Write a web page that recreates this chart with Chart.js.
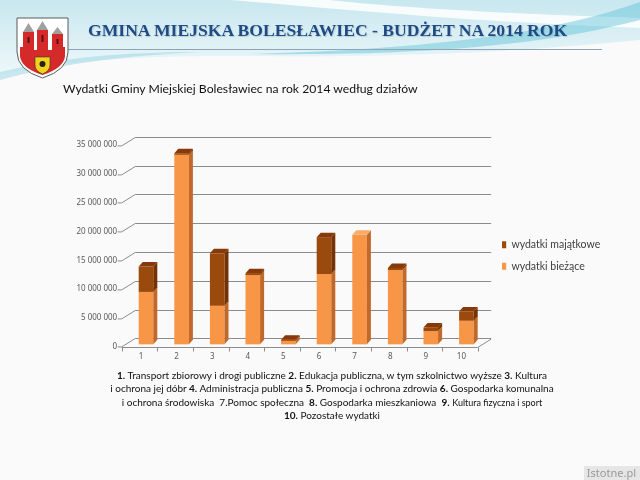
<!DOCTYPE html>
<html>
<head>
<meta charset="utf-8">
<script src="https://cdn.jsdelivr.net/npm/chart.js@4.4.1/dist/chart.umd.min.js"></script>
<style>
html, body { margin: 0; padding: 0; }
body { width: 640px; height: 480px; position: relative; overflow: hidden; background: #fafafa; font-family: Lato, "Noto Sans", sans-serif; }
#bg, #chart { position: absolute; left: 0; top: 0; }
.title { position: absolute; left: 88px; top: 22px; font: bold 17.6px/17px "Liberation Serif", serif; color: #1e4b85; white-space: nowrap; text-shadow: 1px 1px 1px rgba(0,0,0,.15); }
.sub { position: absolute; left: 63px; top: 82px; font-size: 12.2px; line-height: 13px; color: #111; white-space: nowrap; }
.note { position: absolute; left: 0; width: 664px; top: 369px; text-align: center; font-size: 10px; line-height: 13.3px; color: #111; white-space: nowrap; }
.note small { font-size: 9px; }
.mark { position: absolute; right: 0; bottom: 0; width: 52px; height: 14px; background: #e6e6e6; color: #999; font: 11px/14px "Noto Sans", sans-serif; text-align: right; padding-right: 4px; }
</style>
</head>
<body>
<svg id="bg" width="640" height="480">
  <defs>
    <linearGradient id="sky" x1="0" y1="0" x2="0" y2="1">
      <stop offset="0" stop-color="#c8e7ef"/>
      <stop offset="1" stop-color="#eef8fa"/>
    </linearGradient>
  </defs>
  <rect width="640" height="480" fill="#fafafa"/>
  <path d="M0,0 H640 V40 C520,52 380,58 250,56 C150,55 60,60 0,75 Z" fill="url(#sky)"/>
  <path d="M230,0 C330,8 470,22 640,28 V18 C500,14 380,6 330,0 Z" fill="#fff" opacity=".85"/>
  <path d="M250,54 C400,50 540,38 640,2 V20 C540,46 420,56 250,54 Z" fill="#5cc0d8" opacity=".45"/>
  <path d="M0,72 C60,58 120,52 200,52 C120,56 60,64 0,80 Z" fill="#8dd0e0" opacity=".45"/>
  <line x1="60" y1="49.5" x2="602" y2="49.5" stroke="#8fa4b4" stroke-width="1"/>
  <!-- herb -->
  <path d="M17,18 H68 V52 Q68,70 42.5,78 Q17,70 17,52 Z" fill="#fff" stroke="#5a5a5a" stroke-width="1"/>
  <path d="M20,50 H65 V56 Q64,68 42.5,75 Q21,68 20,56 Z" fill="#d42a2a"/>
  <rect x="20" y="47" width="4" height="4" fill="#d42a2a"/>
  <rect x="61" y="47" width="4" height="4" fill="#d42a2a"/>
  <rect x="23" y="32" width="11" height="19" fill="#d42a2a"/>
  <rect x="37" y="30" width="11" height="21" fill="#d42a2a"/>
  <rect x="52" y="34" width="11" height="17" fill="#d42a2a"/>
  <path d="M23,32 L28.5,23 L34,32 Z" fill="#a0a0a0"/>
  <path d="M37,30 L42.5,21 L48,30 Z" fill="#a0a0a0"/>
  <path d="M52,34 L57.5,27 L63,34 Z" fill="#a0a0a0"/>
  <rect x="27.5" y="37" width="2" height="6" fill="#5a1010"/>
  <rect x="41.5" y="35" width="2" height="7" fill="#5a1010"/>
  <rect x="56.5" y="39" width="2" height="5" fill="#5a1010"/>
  <path d="M35,57 H50 V65 Q50,71 42.5,74 Q35,71 35,65 Z" fill="#f2d21b" stroke="#333" stroke-width=".6"/>
  <circle cx="42.5" cy="64" r="3" fill="#222"/>
</svg>
<canvas id="chart" width="640" height="480"></canvas>
<div class="title">GMINA MIEJSKA BOLESŁAWIEC - BUDŻET NA 2014 ROK</div>
<div class="sub">Wydatki Gminy Miejskiej Bolesławiec na rok 2014 według działów</div>
<div class="note">
<b>1.</b> Transport zbiorowy i drogi publiczne <b>2.</b> Edukacja publiczna, w tym szkolnictwo wyższe <b>3.</b> Kultura<br>
i ochrona jej dóbr <b>4.</b> Administracja publiczna <b>5.</b> Promocja i ochrona zdrowia <b>6.</b> Gospodarka komunalna<br>
i ochrona środowiska&nbsp; 7.Pomoc społeczna&nbsp; <b>8.</b> Gospodarka mieszkaniowa&nbsp; <b>9.</b> <small>Kultura fizyczna i sport</small><br>
<b>10.</b> Pozostałe wydatki
</div>
<div class="mark">Istotne.pl</div>
<script>
// działy 1..10
var categories = ['1', '2', '3', '4', '5', '6', '7', '8', '9', '10'];
var currentSpending = [9100000, 32900000, 6700000, 12000000, 600000, 12200000, 19000000, 12900000, 2300000, 4100000];
var capitalSpending = [4400000, 250000, 9100000, 350000, 200000, 6400000, 0, 350000, 600000, 1600000];
var seriesNames = ['wydatki bieżące', 'wydatki majątkowe'];
var yMax = 35000000;
var yStep = 5000000;

// front / side / top colours for each series
var faces = [
    { front: '#f79646', side: '#c0692a', top: '#fbab68' },
    { front: '#9b4a0e', side: '#763205', top: '#86390a' }
];
var depthX = 4, depthY = -4.5;            // bar depth
var frontX = -6.5, frontY = 2.4;          // front plane of the box
var backX = 7, backY = -6;                // back wall

function fmt(v) {
    return String(v).replace(/\B(?=(\d{3})+(?!\d))/g, ' ');
}

function poly(ctx, pts, color) {
    ctx.beginPath();
    ctx.moveTo(pts[0][0], pts[0][1]);
    for (var i = 1; i < pts.length; i++) ctx.lineTo(pts[i][0], pts[i][1]);
    ctx.closePath();
    ctx.fillStyle = color;
    ctx.fill();
}

function drawWalls(chart) {
    var ctx = chart.ctx, a = chart.chartArea, y = chart.scales.y;
    var x0 = a.left, x1 = a.right, yb = a.bottom;
    ctx.save();
    ctx.strokeStyle = '#8c8c8c';
    ctx.lineWidth = 1;
    ctx.beginPath();
    for (var v = 0; v <= yMax; v += yStep) {
        var py = Math.round(y.getPixelForValue(v)) + 0.5;
        ctx.moveTo(x0 + frontX - 4, py + frontY);
        ctx.lineTo(x0 + frontX, py + frontY);
        ctx.moveTo(x0 + frontX, py + frontY);
        ctx.lineTo(x0 + backX, py + backY);
        ctx.moveTo(x0 + backX, py + backY);
        ctx.lineTo(x1 + backX, py + backY);
    }
    var fy = Math.round(yb + frontY) + 0.5;
    ctx.moveTo(x0 + frontX, fy);
    ctx.lineTo(x1 + frontX, fy);
    ctx.lineTo(x1 + backX, fy + backY - frontY);
    var n = categories.length, slot = (x1 - x0) / n;
    for (var k = 0; k <= n; k++) {
        var px = Math.round(x0 + k * slot + frontX) + 0.5;
        ctx.moveTo(px, fy);
        ctx.lineTo(px, fy + 4);
    }
    ctx.stroke();
    ctx.restore();
}

var box3d = {
    id: 'box3d',
    afterInit: function(chart) {
        var lg = chart.legend;
        var fit = lg.fit;
        lg.fit = function() {
            fit.call(this);
            this.width = 155.8;
        };
    },
    afterLayout: function(chart) {
        var lg = chart.legend;
        lg.left += 4; lg.right += 4;
        lg.top += 12; lg.bottom += 12;
    },
    afterDatasetsDraw: function(chart) {
        var ctx = chart.ctx, a = chart.chartArea;
        // wipe the flat bars, then draw the box and the bars in 3D
        ctx.clearRect(a.left - 2, a.top - 10, a.right - a.left + 20, a.bottom - a.top + 10);
        drawWalls(chart);
        ctx.save();
        var metas = [chart.getDatasetMeta(0), chart.getDatasetMeta(1)];
        for (var i = 0; i < categories.length; i++) {
            for (var d = 0; d < metas.length; d++) {
                var el = metas[d].data[i];
                var p = el.getProps(['x', 'y', 'base', 'width'], true);
                if (Math.abs(p.base - p.y) < 0.3) continue;
                var l = p.x - p.width / 2, r = p.x + p.width / 2;
                var top = Math.min(p.y, p.base), bot = Math.max(p.y, p.base);
                var f = faces[d];
                ctx.fillStyle = f.front;
                ctx.fillRect(l, top, r - l, bot - top);
                poly(ctx, [[r, top], [r + depthX, top + depthY], [r + depthX, bot + depthY], [r, bot]], f.side);
                poly(ctx, [[l, top], [r, top], [r + depthX, top + depthY], [l + depthX, top + depthY]], f.top);
            }
        }
        ctx.restore();
    }
};

var tickFont = { family: 'Noto Sans', size: 8 };

new Chart(document.getElementById('chart'), {
    type: 'bar',
    data: {
        labels: categories,
        datasets: [
            { label: seriesNames[0], data: currentSpending, backgroundColor: faces[0].front, stack: 's', barPercentage: 0.41, categoryPercentage: 1 },
            { label: seriesNames[1], data: capitalSpending, backgroundColor: faces[1].front, stack: 's', barPercentage: 0.41, categoryPercentage: 1 }
        ]
    },
    options: {
        responsive: false,
        animation: false,
        events: [],
        layout: { padding: { top: 142.7, left: 0, right: 0, bottom: 0 } },
        scales: {
            x: {
                stacked: true,
                grid: { display: false, drawTicks: false },
                border: { display: false },
                ticks: { padding: 8, labelOffset: -5, color: '#595959', font: tickFont, maxRotation: 0, autoSkip: false },
                afterFit: function(s) { s.height = 135.7; }
            },
            y: {
                stacked: true,
                min: 0,
                max: yMax,
                grid: { display: false, drawTicks: false },
                border: { display: false },
                ticks: { stepSize: yStep, padding: 11, labelOffset: 2.4, color: '#595959', font: tickFont, callback: function(v) { return fmt(v); } },
                afterFit: function(s) { s.width = 128.2; }
            }
        },
        plugins: {
            legend: {
                position: 'right',
                fullSize: false,
                reverse: true,
                labels: { boxWidth: 7, boxHeight: 7, padding: 11, color: '#404040', font: { family: 'Lato', size: 10.5 } }
            },
            tooltip: { enabled: false }
        }
    },
    plugins: [box3d]
});
</script>
</body>
</html>
